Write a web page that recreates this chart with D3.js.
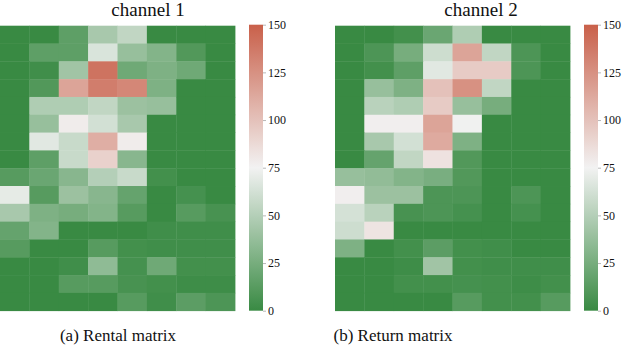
<!DOCTYPE html>
<html>
<head>
<meta charset="utf-8">
<script src="https://cdn.jsdelivr.net/npm/d3@7"></script>
<style>
  body { margin: 0; background: #fff; }
  svg { display: block; }
</style>
</head>
<body>
<svg id="chart" width="626" height="348"></svg>
<script>
// 16 rows x 8 columns (top row first)
const rentalMatrix = [
  [0, 0, 15, 45, 55, 0, 0, 0],
  [0, 15, 15, 65, 38, 30, 10, 0],
  [0, 3, 42, 140, 22, 28, 22, 0],
  [0, 10, 115, 135, 130, 28, 0, 0],
  [0, 48, 48, 55, 40, 38, 0, 0],
  [0, 38, 78, 62, 45, 0, 0, 0],
  [0, 68, 58, 110, 78, 0, 0, 0],
  [0, 15, 58, 92, 32, 0, 0, 0],
  [12, 20, 32, 50, 58, 4, 0, 0],
  [70, 12, 40, 32, 18, 0, 5, 0],
  [45, 28, 25, 30, 12, 0, 12, 6],
  [18, 30, 0, 0, 0, 3, 3, 3],
  [12, 0, 0, 12, 4, 3, 3, 3],
  [0, 0, 3, 35, 5, 22, 4, 4],
  [0, 0, 12, 12, 6, 4, 2, 2],
  [0, 0, 0, 0, 12, 3, 14, 8]
];

const returnMatrix = [
  [0, 0, 4, 20, 48, 0, 0, 0],
  [0, 8, 25, 60, 115, 55, 8, 0],
  [0, 4, 15, 68, 95, 95, 8, 0],
  [0, 38, 28, 100, 125, 55, 0, 0],
  [0, 52, 48, 95, 38, 25, 0, 0],
  [0, 77, 77, 115, 74, 0, 0, 0],
  [0, 45, 62, 112, 28, 0, 0, 0],
  [0, 18, 55, 83, 10, 0, 0, 0],
  [38, 36, 30, 26, 10, 0, 0, 0],
  [77, 40, 40, 8, 8, 0, 8, 0],
  [63, 52, 6, 8, 5, 0, 5, 0],
  [60, 82, 0, 0, 0, 0, 0, 0],
  [28, 0, 4, 14, 4, 3, 0, 0],
  [0, 0, 2, 42, 4, 3, 3, 3],
  [0, 0, 4, 4, 5, 4, 2, 4],
  [0, 0, 0, 0, 12, 4, 4, 12]
];

const panelTitles = ["channel 1", "channel 2"];
const captions = ["(a) Rental matrix", "(b) Return matrix"];
const colorTicks = [0, 25, 50, 75, 100, 125, 150];

const FONT = "'Liberation Serif', 'DejaVu Serif', serif";
const svg = d3.select("#chart");

const color = d3.scaleLinear()
  .domain([0, 75, 150])
  .range(["#398a43", "#f2f2f2", "#c9604a"])
  .interpolate(d3.interpolateRgb)
  .clamp(true);

const panels = [
  { data: rentalMatrix, title: panelTitles[0], caption: captions[0], x0: 0, cbX: 249, titleX: 148, captionX: 118 },
  { data: returnMatrix, title: panelTitles[1], caption: captions[1], x0: 335, cbX: 584, titleX: 481, captionX: 393 }
];

const mapTop = 25.7, mapBottom = 310.7, mapW = 235, cbW = 14;

// gradient for colour bars
const grad = svg.append("defs").append("linearGradient")
  .attr("id", "cb-grad")
  .attr("x1", "0%").attr("y1", "100%")
  .attr("x2", "0%").attr("y2", "0%");
d3.range(0, 151, 5).forEach(v => {
  grad.append("stop").attr("offset", (v / 150 * 100) + "%").attr("stop-color", color(v));
});

panels.forEach(p => {
  const nRows = p.data.length, nCols = p.data[0].length;
  const x = d3.scaleBand().domain(d3.range(nCols)).range([p.x0, p.x0 + mapW]).padding(0);
  const y = d3.scaleBand().domain(d3.range(nRows)).range([mapTop, mapBottom]).padding(0);

  const cells = [];
  p.data.forEach((row, r) => row.forEach((v, c) => cells.push({ r, c, v })));

  svg.append("g").selectAll("rect")
    .data(cells)
    .join("rect")
    .attr("x", d => x(d.c))
    .attr("y", d => y(d.r))
    .attr("width", x.bandwidth() + 0.4)
    .attr("height", y.bandwidth() + 0.4)
    .attr("fill", d => color(d.v));

  svg.append("text")
    .attr("x", p.titleX)
    .attr("y", 16)
    .attr("text-anchor", "middle")
    .style("font-family", FONT)
    .style("font-size", "19px")
    .attr("fill", "#111")
    .text(p.title);

  svg.append("text")
    .attr("x", p.captionX)
    .attr("y", 341)
    .attr("text-anchor", "middle")
    .style("font-family", FONT)
    .style("font-size", "17px")
    .attr("fill", "#111")
    .text(p.caption);

  // colour bar
  svg.append("rect")
    .attr("x", p.cbX)
    .attr("y", mapTop - 1)
    .attr("width", cbW)
    .attr("height", mapBottom - mapTop + 1)
    .attr("fill", "url(#cb-grad)");

  const cy = d3.scaleLinear().domain([0, 150]).range([mapBottom, mapTop - 1]);
  const axis = svg.append("g")
    .attr("transform", `translate(${p.cbX + cbW},0)`)
    .call(d3.axisRight(cy).tickValues(colorTicks).tickSize(3).tickPadding(2));
  axis.select(".domain").remove();
  axis.selectAll("line").attr("stroke", "#888").attr("stroke-width", 0.6);
  axis.selectAll("text")
    .style("font-family", FONT)
    .style("font-size", "12px")
    .attr("fill", "#111");
});
</script>
</body>
</html>
